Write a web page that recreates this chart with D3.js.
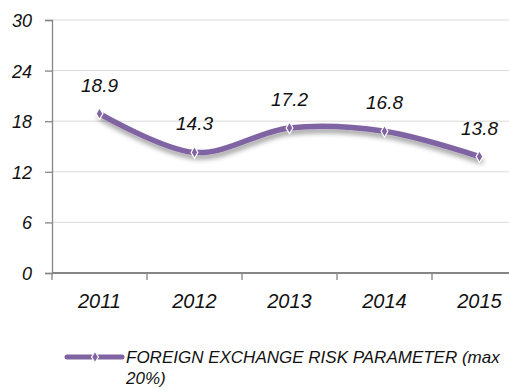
<!DOCTYPE html>
<html>
<head>
<meta charset="utf-8">
<script src="https://cdn.jsdelivr.net/npm/d3@7"></script>
<style>
  html, body { margin: 0; padding: 0; background: #fff; }
  svg { display: block; }
  text { font-family: "Liberation Sans", Arial, sans-serif; font-style: italic; fill: #111; }
</style>
</head>
<body>
<svg id="chart" width="509" height="390"></svg>
<script>
// Foreign exchange risk parameter by year (%)
const years = ["2011", "2012", "2013", "2014", "2015"];
const values = [18.9, 14.3, 17.2, 16.8, 13.8];
const yTicks = [0, 6, 12, 18, 24, 30];
const seriesName = "FOREIGN EXCHANGE RISK PARAMETER (max";
const seriesNameCont = "20%)";

const svg = d3.select("#chart");
const margin = { left: 52, top: 20 };
const plotBottom = 273;
const bandW = 95;

const x = d3.scaleBand().domain(years).range([margin.left, margin.left + bandW * years.length]).padding(0);
const y = d3.scaleLinear().domain([0, 30]).range([plotBottom, margin.top]);

const purple = "#8064a2";

// drop shadow under the series line
const defs = svg.append("defs");
const f = defs.append("filter").attr("id", "shadow").attr("x", "-10%").attr("y", "-30%").attr("width", "130%").attr("height", "190%");
f.append("feDropShadow").attr("dx", 1).attr("dy", 4).attr("stdDeviation", 2.5)
  .attr("flood-color", "#000").attr("flood-opacity", 0.38);

// horizontal gridlines
svg.append("g").selectAll("line").data(yTicks.filter(d => d > 0)).join("line")
  .attr("x1", margin.left).attr("x2", x.range()[1])
  .attr("y1", d => y(d)).attr("y2", d => y(d))
  .attr("stroke", "#d9d9d9").attr("stroke-width", 1);

// y axis
const yAxis = svg.append("g").attr("transform", `translate(${margin.left},0)`)
  .call(d3.axisLeft(y).tickValues(yTicks).tickSize(7).tickPadding(13).tickFormat(d3.format("d")));
yAxis.select(".domain").attr("stroke", "#868686").attr("stroke-width", 1.3);
yAxis.selectAll(".tick line").attr("stroke", "#868686").attr("stroke-width", 1.3);
yAxis.selectAll(".tick text").attr("font-size", 18).attr("font-family", "Liberation Sans, Arial, sans-serif")
  .attr("font-style", "italic").attr("fill", "#111").attr("dy", "0.36em");

// x axis with tick marks on category boundaries
const xAxisG = svg.append("g").attr("transform", `translate(0,${plotBottom})`);
xAxisG.append("line").attr("x1", margin.left).attr("x2", x.range()[1])
  .attr("stroke", "#868686").attr("stroke-width", 2);
const bounds = years.map(d => x(d)).concat([x.range()[1]]);
xAxisG.selectAll(".bt").data(bounds).join("line").attr("class", "bt")
  .attr("x1", d => d).attr("x2", d => d).attr("y1", 0).attr("y2", 7)
  .attr("stroke", "#868686").attr("stroke-width", 1.3);
xAxisG.selectAll(".yl").data(years).join("text").attr("class", "yl")
  .attr("x", d => x(d) + x.bandwidth() / 2).attr("y", 35)
  .attr("text-anchor", "middle").attr("font-size", 20).text(d => d);

// series line
const cx = (d, i) => x(years[i]) + x.bandwidth() / 2;
const line = d3.line().x(cx).y(d => y(d)).curve(d3.curveCatmullRom.alpha(0));
svg.append("path").datum(values).attr("d", line)
  .attr("fill", "none").attr("stroke", purple).attr("stroke-width", 5.5)
  .attr("stroke-linecap", "round").attr("filter", "url(#shadow)");

// markers
function diamond(sel) {
  sel.attr("d", d3.symbol().type(d3.symbolDiamond).size(40)())
    .attr("fill", purple).attr("stroke", "#fff").attr("stroke-width", 1.2);
}
svg.append("g").selectAll("path").data(values).join("path")
  .attr("transform", (d, i) => `translate(${cx(d, i)},${y(d)})`).call(diamond);

// value labels
svg.append("g").selectAll("text").data(values).join("text")
  .attr("x", cx).attr("y", d => y(d) - 22)
  .attr("text-anchor", "middle").attr("font-size", 19)
  .text(d => d3.format(".1f")(d));

// legend
const lg = svg.append("g");
lg.append("line").attr("x1", 67).attr("x2", 122).attr("y1", 357).attr("y2", 357)
  .attr("stroke", purple).attr("stroke-width", 5).attr("stroke-linecap", "round");
lg.append("path").attr("transform", "translate(95,357)").call(diamond);
lg.append("text").attr("x", 126).attr("y", 363).attr("font-size", 17).text(seriesName);
lg.append("text").attr("x", 126).attr("y", 384).attr("font-size", 17).text(seriesNameCont);
</script>
</body>
</html>
